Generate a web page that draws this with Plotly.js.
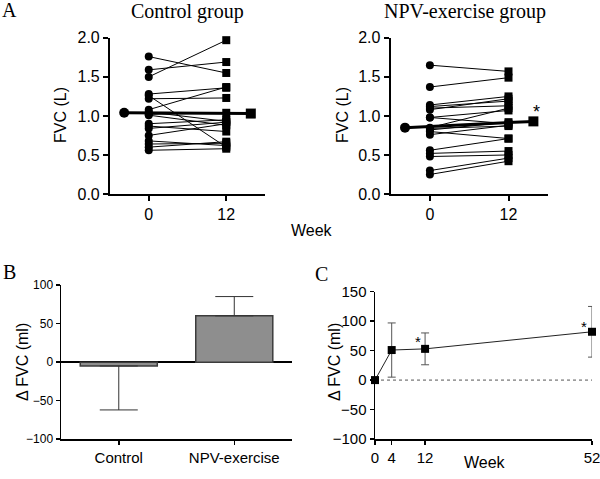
<!DOCTYPE html>
<html>
<head>
<meta charset="utf-8">
<script src="https://cdn.plot.ly/plotly-3.0.1.min.js"></script>
<style>html,body{margin:0;padding:0;background:#fff;}#chart{width:600px;height:479px;}</style>
</head>
<body>
<div id="chart"></div>
<script>
// ---- Panel A: individual FVC (L) at week 0 and week 12 ----
const weeksA = [0, 12];
const ctrlWeek0  = [1.76, 1.59, 1.50, 1.28, 1.26, 1.22, 1.08, 1.05, 1.02, 1.01, 0.90, 0.87, 0.84, 0.75, 0.68, 0.64, 0.60, 0.56];
const ctrlWeek12 = [1.55, 1.69, 1.97, 1.36, 0.60, 1.23, 1.37, 0.93, 1.04, 0.88, 0.95, 0.80, 0.92, 0.90, 0.62, 0.65, 0.67, 0.58];
const npvWeek0   = [1.65, 1.37, 1.14, 1.12, 1.10, 1.08, 0.98, 0.98, 0.85, 0.84, 0.82, 0.80, 0.76, 0.56, 0.52, 0.48, 0.30, 0.25];
const npvWeek12  = [1.57, 1.49, 1.25, 1.19, 1.13, 1.22, 1.07, 0.90, 1.10, 0.87, 0.92, 0.71, 0.88, 0.71, 0.55, 0.50, 0.46, 0.42];
const ctrlMean = [1.04, 1.03];
const npvMean  = [0.85, 0.93];

// ---- Panel B: change in FVC (ml) ----
const groupsB = ['Control', 'NPV-exercise'];
const deltaB = [-5, 60];
const errUpB = [0, 25];
const errDownB = [57, 0];

// ---- Panel C: change in FVC over time (NPV-exercise) ----
const weeksC = [0, 4, 12, 52];
const deltaC = [0, 51, 53, 82];
const errC = [0, 46, 27, 43];

const SANS = 'Liberation Sans, Arial, sans-serif';
const SERIF = 'Liberation Serif, Times New Roman, serif';
const meanOffset = 3.8;

function pairLines(w0, w12) {
  const x = [], y = [];
  for (let i = 0; i < w0.length; i++) {
    x.push(weeksA[0], weeksA[1], null);
    y.push(w0[i], w12[i], null);
  }
  return {x, y};
}
function panelATraces(w0, w12, mean, xa, ya) {
  const pl = pairLines(w0, w12);
  const mx = [weeksA[0] - meanOffset, weeksA[1] + meanOffset];
  return [
    {x: pl.x, y: pl.y, xaxis: xa, yaxis: ya, mode: 'lines', type: 'scatter',
     line: {color: '#000', width: 1}, cliponaxis: false, hoverinfo: 'skip'},
    {x: w0.map(() => weeksA[0]), y: w0, xaxis: xa, yaxis: ya, mode: 'markers', type: 'scatter',
     marker: {symbol: 'circle', size: 8, color: '#000'}, cliponaxis: false},
    {x: w12.map(() => weeksA[1]), y: w12, xaxis: xa, yaxis: ya, mode: 'markers', type: 'scatter',
     marker: {symbol: 'square', size: 8, color: '#000'}, cliponaxis: false},
    {x: mx, y: mean, xaxis: xa, yaxis: ya, mode: 'lines+markers', type: 'scatter',
     line: {color: '#000', width: 3},
     marker: {symbol: ['circle', 'square'], size: 10, color: '#000'}, cliponaxis: false}
  ];
}

const traces = [].concat(
  panelATraces(ctrlWeek0, ctrlWeek12, ctrlMean, 'x', 'y'),
  panelATraces(npvWeek0, npvWeek12, npvMean, 'x2', 'y2'),
  [{
    x: groupsB, y: deltaB, xaxis: 'x3', yaxis: 'y3', type: 'bar',
    marker: {color: '#8e8e8e', line: {color: '#3c3c3c', width: 1.5}},
    error_y: {type: 'data', symmetric: false, array: errUpB, arrayminus: errDownB,
              color: '#333', thickness: 1, width: 19}
  }, {
    x: weeksC, y: deltaC, xaxis: 'x4', yaxis: 'y4', type: 'scatter', mode: 'lines+markers',
    line: {color: '#222', width: 1},
    marker: {symbol: 'square', size: 8, color: '#000'},
    error_y: {type: 'data', array: errC, color: '#555', thickness: 1, width: 4},
    cliponaxis: false
  }]
);

const axA = {
  showline: true, linewidth: 2, linecolor: '#000', ticks: 'outside', ticklen: 5, tickwidth: 2,
  tickcolor: '#000', showgrid: false, zeroline: false, tickfont: {family: SANS, size: 16, color: '#000'}
};
const axBC = {
  showline: true, linewidth: 1.5, linecolor: '#000', ticks: 'outside', ticklen: 4, tickwidth: 1.5,
  tickcolor: '#000', showgrid: false, zeroline: false, ticklabeloverflow: 'allow',
  tickfont: {family: SANS, size: 15, color: '#000'}
};

function txt(text, px, py, size, family, extra) {
  return Object.assign({text: text, x: px / 600, y: 1 - py / 479, xref: 'paper', yref: 'paper',
    xanchor: 'center', yanchor: 'middle', showarrow: false,
    font: {family: family, size: size, color: '#000'}}, extra || {});
}

const layout = {
  width: 600, height: 479,
  margin: {l: 0, r: 0, t: 0, b: 0},
  paper_bgcolor: '#fff', plot_bgcolor: '#fff',
  showlegend: false,
  xaxis: Object.assign({}, axA, {domain: [0.1833, 0.4417], anchor: 'y', range: [-6, 18], tickvals: weeksA}),
  yaxis: Object.assign({}, axA, {domain: [0.595, 0.921], anchor: 'x', range: [0, 2], dtick: 0.5, tickformat: '.1f'}),
  xaxis2: Object.assign({}, axA, {domain: [0.651, 0.913], anchor: 'y2', range: [-6, 18], tickvals: weeksA}),
  yaxis2: Object.assign({}, axA, {domain: [0.595, 0.921], anchor: 'x2', range: [0, 2], dtick: 0.5, tickformat: '.1f'}),
  xaxis3: Object.assign({}, axBC, {domain: [0.1017, 0.4867], anchor: 'y3', type: 'category', range: [-0.5, 1.5]}),
  yaxis3: Object.assign({}, axBC, {domain: [0.083, 0.405], anchor: 'x3', range: [-100, 100], dtick: 50,
          zeroline: true, zerolinecolor: '#000', zerolinewidth: 1.5,
          tickfont: {family: SANS, size: 12, color: '#000'}}),
  xaxis4: Object.assign({}, axBC, {domain: [0.625, 0.9867], anchor: 'y4', range: [0, 52], tickvals: weeksC}),
  yaxis4: Object.assign({}, axBC, {domain: [0.0835, 0.391], anchor: 'x4', range: [-100, 150], dtick: 50}),
  bargap: 0.333,
  shapes: [{type: 'line', xref: 'x4', yref: 'y4', x0: weeksC[0], x1: weeksC[weeksC.length - 1], y0: 0, y1: 0,
            line: {color: '#555', width: 1, dash: 'dot'}, layer: 'below'}],
  annotations: [
    txt('A', 9, 10, 20, SERIF),
    txt('Control group', 187.5, 11, 20, SERIF),
    txt('NPV-exercise group', 465, 11, 20, SERIF),
    txt('FVC (L)', 61, 115, 16, SANS, {textangle: -90}),
    txt('FVC (L)', 343, 115, 16, SANS, {textangle: -90}),
    txt('Week', 312, 231, 16, SANS),
    txt('B', 9, 272, 20, SERIF),
    txt('Δ FVC (ml)', 22, 362, 16, SANS, {textangle: -90}),
    txt('C', 321, 274, 20, SERIF),
    txt('Δ FVC (ml)', 334, 362, 16, SANS, {textangle: -90}),
    txt('Week', 485, 462, 16, SANS),
    {text: '*', x: 16.3, y: 1.05, xref: 'x2', yref: 'y2', showarrow: false, xanchor: 'center', yanchor: 'middle',
     font: {family: SANS, size: 18, color: '#000'}},
    {text: '*', x: 10.2, y: 66, xref: 'x4', yref: 'y4', showarrow: false, xanchor: 'center', yanchor: 'middle',
     font: {family: SANS, size: 15, color: '#000'}},
    {text: '*', x: 50, y: 91, xref: 'x4', yref: 'y4', showarrow: false, xanchor: 'center', yanchor: 'middle',
     font: {family: SANS, size: 15, color: '#000'}}
  ]
};

Plotly.newPlot('chart', traces, layout, {staticPlot: true, displayModeBar: false});
</script>
</body>
</html>
